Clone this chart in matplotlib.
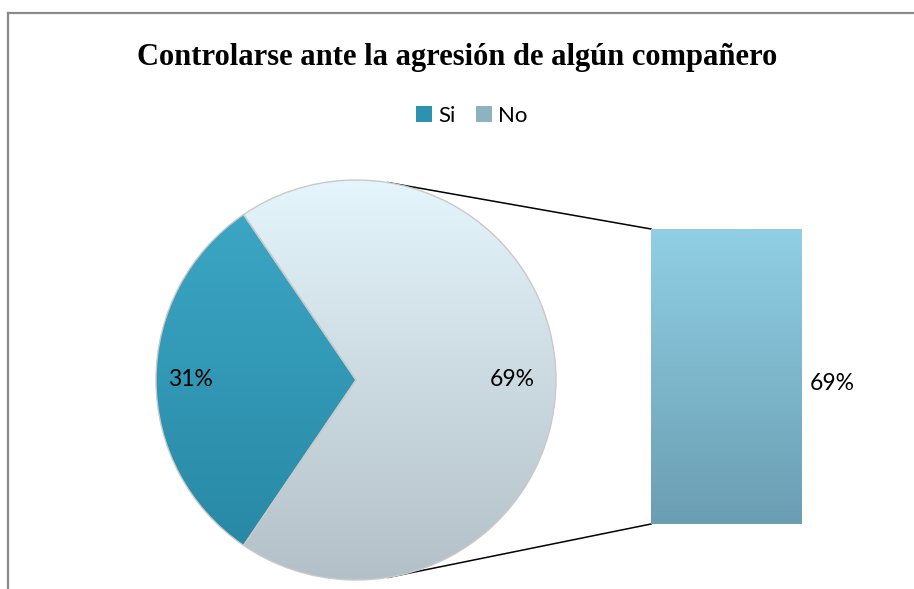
"""Bar-of-pie chart: Controlarse ante la agresión de algún compañero."""
import numpy as np
import matplotlib.pyplot as plt
from matplotlib.colors import LinearSegmentedColormap
from matplotlib.patches import Patch

W, H = 914, 589

# data
categories = ["Si", "No"]
values = [31, 69]
bar_values = [69]          # the "No" portion split off into the secondary bar
title = "Controlarse ante la agresión de algún compañero"

# colours (top / bottom of the gradients)
si_grad = ("#3DA9C7", "#2686A2")
no_grad = ("#E4F5FB", "#B3C0C7")
bar_grad = ("#90CFE5", "#6B9EB2")
legend_colors = ["#2B92B0", "#8EB2C0"]


def px_axes(fig, x0, y0, x1, y1):
    """axes from pixel box (origin top-left)"""
    return fig.add_axes([x0 / W, 1 - y1 / H, (x1 - x0) / W, (y1 - y0) / H])


def gradient_fill(ax, patch, top, bottom, extent):
    cmap = LinearSegmentedColormap.from_list("g", [bottom, top])
    grad = np.linspace(0, 1, 256).reshape(-1, 1)
    im = ax.imshow(grad, cmap=cmap, extent=extent, origin="lower",
                   aspect="auto", zorder=patch.get_zorder() + 0.1)
    im.set_clip_path(patch)
    return im


fig = plt.figure(figsize=(W / 100, H / 100), dpi=100, facecolor="white")

# background axes in pixel coordinates (frame + connector lines)
bg = fig.add_axes([0, 0, 1, 1], zorder=0)
bg.set_xlim(0, W)
bg.set_ylim(H, 0)
bg.axis("off")
bg.plot([8, W], [12.5, 12.5], color="#8a8a8a", lw=1.6)
bg.plot([8, 8], [12.5, H], color="#8a8a8a", lw=1.6)

# pie
cx, cy, r = 356, 380, 200
pax = px_axes(fig, cx - r, cy - r, cx + r, cy + r)
pax.set_zorder(2)
pax.patch.set_alpha(0)
start = 180 - values[0] / 100 * 360 / 2
wedges, texts = pax.pie(values, startangle=start, radius=1, counterclock=True,
                        colors=["none", "none"],
                        wedgeprops=dict(edgecolor="#c9c9c9", linewidth=1.0))
for w, (top, bottom) in zip(wedges, [si_grad, no_grad]):
    gradient_fill(pax, w, top, bottom, (-1, 1, -1, 1))
    w.set_zorder(3)
pax.set_xlim(-1, 1)
pax.set_ylim(-1, 1)
pax.set_aspect("auto")
pax.text(-0.83, 0, f"{values[0]}%", ha="center", va="center",
         fontsize=16.5, family="Lato", zorder=5)
pax.text(0.78, 0, f"{values[1]}%", ha="center", va="center",
         fontsize=16.5, family="Lato", zorder=5)

# secondary bar
bx0, by0, bx1, by1 = 651, 229, 802, 524
bax = px_axes(fig, bx0, by0, bx1, by1)
bax.set_zorder(2)
bax.patch.set_alpha(0)
bars = bax.bar([0], bar_values, width=1, color="none",
               edgecolor="#5f8fa2", linewidth=0.8)
for b in bars:
    gradient_fill(bax, b, bar_grad[0], bar_grad[1], (-0.5, 0.5, 0, bar_values[0]))
bax.set_xlim(-0.5, 0.5)
bax.set_ylim(0, sum(bar_values))
bax.axis("off")
bg.text(832, 383, f"{bar_values[0]}%", ha="center", va="center",
        fontsize=16.5, family="Lato")

# connector lines from pie edge to bar corners
ang = np.deg2rad(80.8)
bg.plot([cx + r * np.cos(ang), bx0], [cy - r * np.sin(ang), by0],
        color="black", lw=1.1, zorder=1)
bg.plot([cx + r * np.cos(ang), bx0], [cy + r * np.sin(ang), by1],
        color="black", lw=1.1, zorder=1)

# title and legend
bg.text(457, 58, title, ha="center", va="center", fontsize=22,
        fontweight="bold", family="Liberation Serif")
handles = [Patch(facecolor=c, edgecolor="none") for c in legend_colors]
fig.legend(handles, categories, loc="center", bbox_to_anchor=(472 / W, 1 - 116 / H),
           ncol=2, frameon=False, prop=dict(family="Lato", size=16),
           handlelength=0.7, handleheight=0.7, handletextpad=0.3,
           columnspacing=0.9)

fig.savefig("out.png", dpi=100, facecolor="white")
